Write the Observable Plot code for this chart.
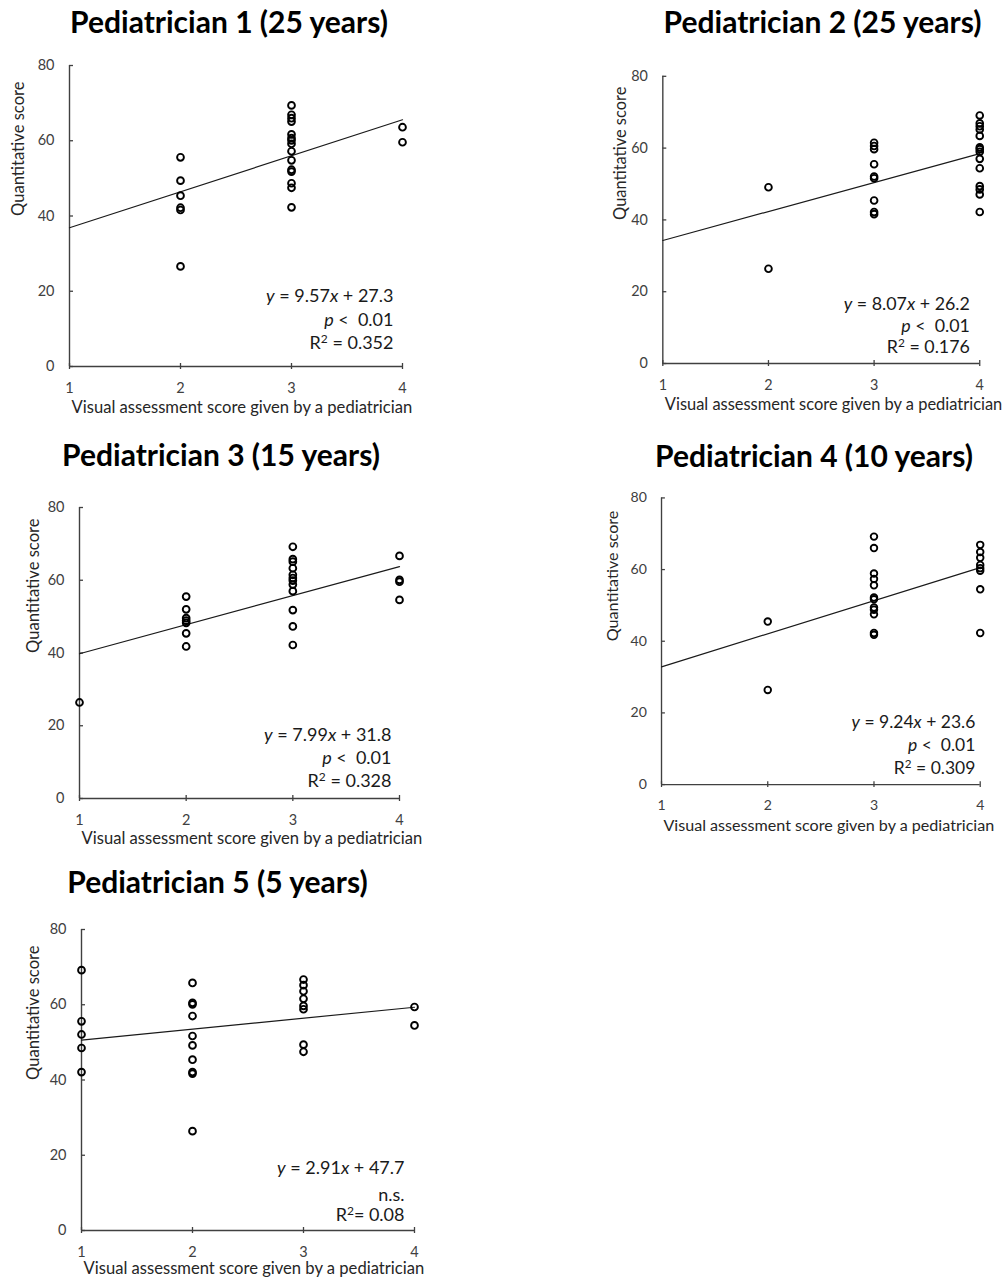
<!DOCTYPE html>
<html>
<head>
<meta charset="utf-8">
<script src="https://cdn.jsdelivr.net/npm/d3@7"></script>
<script src="https://cdn.jsdelivr.net/npm/@observablehq/plot@0.6"></script>
<style>
  html, body { margin: 0; padding: 0; background: #fff; }
  #page { position: relative; width: 1005px; height: 1280px; overflow: hidden; font-family: Lato, "Open Sans", sans-serif; }
  .title { position: absolute; font-weight: 700; font-size: 30px; line-height: 1; white-space: nowrap; color: #000; transform: translateX(-50%); }
  .panel { position: absolute; }
  .panel svg { overflow: visible; }
</style>
</head>
<body>
<div id="page"></div>
<script>
// Panel titles
const titles = [
  "Pediatrician 1 (25 years)",
  "Pediatrician 2 (25 years)",
  "Pediatrician 3 (15 years)",
  "Pediatrician 4 (10 years)",
  "Pediatrician 5 (5 years)"
];

// Visual assessment score (1-4) and quantitative score for each image, per pediatrician
const p1Visual = [2, 2, 2, 2, 2, 2,
                  3, 3, 3, 3, 3, 3, 3, 3, 3, 3, 3, 3, 3, 3, 3,
                  4, 4];
const p1Score  = [55.6, 49.4, 45.4, 42.2, 41.6, 26.6,
                  69.4, 66.9, 66.0, 65.1, 61.7, 60.7, 60.1, 59.2, 57.2, 54.8, 52.3, 51.8, 48.7, 47.5, 42.3,
                  63.6, 59.6];

const p2Visual = [2, 2,
                  3, 3, 3, 3, 3, 3, 3, 3, 3,
                  4, 4, 4, 4, 4, 4, 4, 4, 4, 4, 4, 4, 4, 4];
const p2Score  = [49.1, 26.4,
                  61.5, 60.6, 59.7, 55.5, 52.1, 51.6, 45.4, 42.2, 41.6,
                  69.1, 66.9, 66.1, 65.2, 63.4, 60.2, 59.7, 59.0, 57.0, 54.4, 49.4, 48.5, 47.1, 42.2];

const p3Visual = [1,
                  2, 2, 2, 2, 2, 2, 2,
                  3, 3, 3, 3, 3, 3, 3, 3, 3, 3, 3, 3,
                  4, 4, 4, 4];
const p3Score  = [26.4,
                  55.5, 52.0, 49.6, 48.9, 48.3, 45.4, 41.8,
                  69.2, 65.8, 65.1, 63.3, 61.5, 60.6, 59.9, 58.8, 57.0, 51.8, 47.3, 42.2,
                  66.7, 60.1, 59.6, 54.6];

const p4Visual = [2, 2,
                  3, 3, 3, 3, 3, 3, 3, 3, 3, 3, 3, 3,
                  4, 4, 4, 4, 4, 4, 4, 4];
const p4Score  = [45.5, 26.4,
                  69.2, 66.0, 58.9, 57.4, 55.6, 52.2, 51.7, 49.4, 48.8, 47.5, 42.3, 41.8,
                  66.9, 64.9, 63.3, 61.3, 60.4, 59.7, 54.5, 42.3];

const p5Visual = [1, 1, 1, 1, 1,
                  2, 2, 2, 2, 2, 2, 2, 2, 2, 2,
                  3, 3, 3, 3, 3, 3, 3, 3,
                  4, 4];
const p5Score  = [69.2, 55.6, 52.1, 48.5, 42.1,
                  65.8, 60.5, 60.1, 57.0, 51.7, 49.2, 45.4, 42.1, 41.7, 26.4,
                  66.7, 65.2, 63.6, 61.6, 59.7, 58.8, 49.4, 47.5,
                  59.4, 54.5];

// Regression results
const slopes     = [9.57, 8.07, 7.99, 9.24, 2.91];
const intercepts = [27.3, 26.2, 31.8, 23.6, 47.7];
const pLabels    = ["p <  0.01", "p <  0.01", "p <  0.01", "p <  0.01", "n.s."];
const r2Labels   = ["R2 = 0.352", "R2 = 0.176", "R2 = 0.328", "R2 = 0.309", "R2= 0.08"];

// Axis ticks and titles
const xTicks = [1, 2, 3, 4];
const yTicks = [0, 20, 40, 60, 80];
const xTitle = "Visual assessment score given by a pediatrician";
const yTitle = "Quantitative score";

// Page placement of each panel: frame edges in page pixels, title centre/baseline,
// axis-title offsets from the axes and offsets of the three annotation lines
const layout = [
  {cx: 229,   base: 33,  x1: 69,  x4: 402, yTop: 65,  yBot: 366,  yt: 51, xt: 41, ax: 9,  ay: [-70, -46, -23]},
  {cx: 822.5, base: 33,  x1: 663, x4: 983, yTop: 76,  yBot: 366,  yt: 43, xt: 42, ax: 10, ay: [-60, -38, -16]},
  {cx: 221,   base: 466, x1: 79,  x4: 399, yTop: 507, yBot: 798,  yt: 46, xt: 40, ax: 8,  ay: [-63, -40, -17]},
  {cx: 814,   base: 467, x1: 663, x4: 991, yTop: 498, yBot: 793,  yt: 50, xt: 42, ax: 5,  ay: [-64, -40, -17]},
  {cx: 217.5, base: 893, x1: 81,  x4: 414, yTop: 929, yBot: 1230, yt: 48, xt: 38, ax: 10, ay: [-62, -35, -15]}
];

const visuals = [p1Visual, p2Visual, p3Visual, p4Visual, p5Visual];
const scores  = [p1Score, p2Score, p3Score, p4Score, p5Score];

const page = document.getElementById("page");
const axisColor = "#404040";
const TITLE_FS = 30;
const SVGNS = "http://www.w3.org/2000/svg";

// Rewrite a text element's content as a series of runs (italic or superscript)
function setRuns(textEl, runs) {
  textEl.textContent = "";
  textEl.setAttribute("xml:space", "preserve");
  textEl.style.whiteSpace = "pre";
  let shifted = 0;
  for (const r of runs) {
    const t = document.createElementNS(SVGNS, "tspan");
    t.textContent = r.t;
    if (r.i) t.setAttribute("font-style", "italic");
    if (r.sup) {
      t.setAttribute("font-size", "12px");
      t.setAttribute("dy", "-6");
      shifted = 6;
    } else if (shifted) {
      t.setAttribute("dy", String(shifted));
      shifted = 0;
    }
    textEl.appendChild(t);
  }
}

function drawPanel(i) {
  const L = layout[i];
  const mL = 70, mR = 26, mT = 20, mB = 60;
  const w = (L.x4 - L.x1) + mL + mR;
  const h = (L.yBot - L.yTop) + mT + mB;

  const points = visuals[i].map((v, k) => ({visual: v, score: scores[i][k]}));
  const [xa, xb] = d3.extent(xTicks);
  const fit = [xa, xb].map(x => ({visual: x, score: slopes[i] * x + intercepts[i]}));
  const eq = `y = ${slopes[i].toFixed(2)}x + ${intercepts[i].toFixed(1)}`;
  const annFs = 18;

  const chart = Plot.plot({
    width: w, height: h,
    marginLeft: mL, marginRight: mR, marginTop: mT, marginBottom: mB,
    x: {domain: [1, 4]},
    y: {domain: [0, 80]},
    style: {fontFamily: "Lato, 'Open Sans', sans-serif", fontSize: "14px", color: axisColor, background: "transparent", overflow: "visible"},
    marks: [
      // axis lines
      Plot.ruleY([0], {stroke: axisColor, strokeWidth: 1.4}),
      Plot.ruleX([1], {stroke: axisColor, strokeWidth: 1.4}),
      // tick marks: y ticks point inward, x ticks cross the axis
      Plot.axisY({ticks: yTicks, tickSize: 4, dx: 4, fill: "none", stroke: axisColor, strokeWidth: 1.3, label: null}),
      Plot.axisX({ticks: xTicks, tickSize: 6, dy: -3, fill: "none", stroke: axisColor, strokeWidth: 1.3, label: null}),
      // tick labels
      Plot.axisY({ticks: yTicks, tickFormat: "d", tickSize: 0, tickPadding: 15, stroke: "none", fill: axisColor, fontSize: 14.5, label: null}),
      Plot.axisX({ticks: xTicks, tickFormat: "d", tickSize: 0, tickPadding: 16, stroke: "none", fill: axisColor, fontSize: 14.5, label: null}),
      // axis titles
      Plot.text([xTitle], {text: d => d, frameAnchor: "bottom-left", textAnchor: "start", lineAnchor: "middle", dx: 2, dy: L.xt, fontSize: 16.6, fill: "#262626"}),
      Plot.text([yTitle], {text: d => d, frameAnchor: "left", rotate: -90, lineAnchor: "middle", dx: -L.yt, fontSize: 16.6, fill: "#262626"}),
      // regression line and observations
      Plot.line(fit, {x: "visual", y: "score", stroke: "#1a1a1a", strokeWidth: 1.2}),
      Plot.dot(points, {x: "visual", y: "score", r: 3.4, fill: "none", stroke: "#000", strokeWidth: 1.9}),
      // regression annotation
      Plot.text([eq], {text: d => d, frameAnchor: "bottom-right", textAnchor: "end", lineAnchor: "middle", dx: -L.ax, dy: L.ay[0], fontSize: annFs, fill: "#1a1a1a"}),
      Plot.text([pLabels[i]], {text: d => d, frameAnchor: "bottom-right", textAnchor: "end", lineAnchor: "middle", dx: -L.ax, dy: L.ay[1], fontSize: annFs, fill: "#1a1a1a"}),
      Plot.text([r2Labels[i]], {text: d => d, frameAnchor: "bottom-right", textAnchor: "end", lineAnchor: "middle", dx: -L.ax, dy: L.ay[2], fontSize: annFs, fill: "#1a1a1a"})
    ]
  });

  // italic variables and the squared R in the annotation
  chart.querySelectorAll("text").forEach(t => {
    const s = t.textContent;
    if (s === eq) {
      setRuns(t, [
        {t: "y", i: true}, {t: ` = ${slopes[i].toFixed(2)}`},
        {t: "x", i: true}, {t: ` + ${intercepts[i].toFixed(1)}`}
      ]);
    } else if (s === pLabels[i] && s.startsWith("p ")) {
      setRuns(t, [{t: "p", i: true}, {t: s.slice(1)}]);
    } else if (s === r2Labels[i]) {
      setRuns(t, [{t: "R"}, {t: "2", sup: true}, {t: s.slice(2)}]);
    }
  });

  const wrap = document.createElement("div");
  wrap.className = "panel";
  wrap.style.left = (L.x1 - mL) + "px";
  wrap.style.top = (L.yTop - mT) + "px";
  wrap.appendChild(chart);
  page.appendChild(wrap);

  const title = document.createElement("div");
  title.className = "title";
  title.textContent = titles[i];
  title.style.left = L.cx + "px";
  title.style.top = (L.base - 0.887 * TITLE_FS) + "px";
  page.appendChild(title);
}

titles.forEach((_, i) => drawPanel(i));
</script>
</body>
</html>
